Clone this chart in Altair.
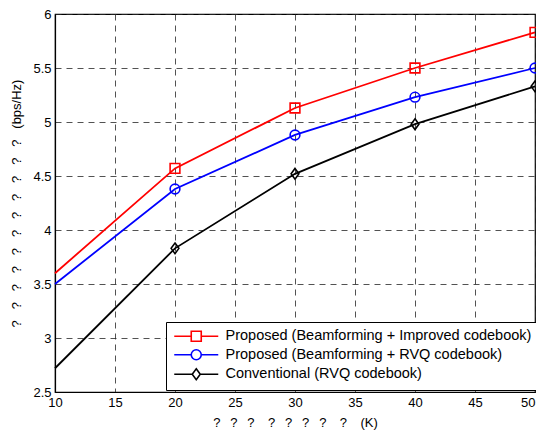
import altair as alt
import pandas as pd

# ---- data ----
K = [10, 20, 30, 40, 50]
improved = [3.60, 4.57, 5.13, 5.50, 5.83]
rvq_bf = [3.50, 4.38, 4.88, 5.23, 5.50]
conventional = [2.72, 3.83, 4.52, 4.98, 5.33]
series = [
    "Proposed (Beamforming + Improved codebook)",
    "Proposed (Beamforming + RVQ codebook)",
    "Conventional (RVQ codebook)",
]
colors = ["#ff0000", "#0000ff", "#000000"]
x_ticks = [10, 15, 20, 25, 30, 35, 40, 45, 50]
y_ticks = [2.5, 3, 3.5, 4, 4.5, 5, 5.5, 6]

NB = "\u00a0"
gap = NB + NB + "\u2009"
x_title = gap.join(["?", "?", "?"]) + gap + NB + gap.join(["?", "?", "?", "?"]) + gap + NB + "?" + gap + NB + "(K)"
y_title = (NB * 3).join(["?"] * 11) + NB * 3 + "(bps/Hz)"

rows = []
for name, vals in zip(series, [improved, rvq_bf, conventional]):
    for k, v in zip(K, vals):
        rows.append({"K": k, "rate": v, "series": name})
df = pd.DataFrame(rows)

marker_paths = [
    "M-1,-1H1V1H-1Z",
    "M-1,0A1,1 0 1,0 1,0A1,1 0 1,0 -1,0Z",
    "M0,-1.1L0.8,0L0,1.1L-0.8,0Z",
]
legend_paths = [
    "M-4.4,0H-1M1,0H4.4M-1,-1H1V1H-1Z",
    "M-4.4,0H-1M1,0H4.4M-1,0A1,1 0 1,0 1,0A1,1 0 1,0 -1,0Z",
    "M-4.4,0H-0.8M0.8,0H4.4M0,-1.1L0.8,0L0,1.1L-0.8,0Z",
]

FONT = "Liberation Sans"

x_enc = alt.X(
    "K:Q",
    scale=alt.Scale(domain=[10, 50], nice=False),
    axis=alt.Axis(values=x_ticks, title=x_title, ticks=False, labelPadding=4,
                  titlePadding=7, labelFlush=False,
                  labelAlign={"condition": {"test": "datum.value >= 50", "value": "right"},
                              "value": "center"}),
)
y_enc = alt.Y(
    "rate:Q",
    scale=alt.Scale(domain=[2.5, 6], nice=False),
    axis=alt.Axis(values=y_ticks, format="~g", title=y_title, ticks=False,
                  labelPadding=4, titlePadding=9, labelFlush=False),
)
cscale = alt.Scale(domain=series, range=colors)

base = alt.Chart(df)

lines = base.mark_line(strokeWidth=1.8).encode(
    x=x_enc, y=y_enc,
    color=alt.Color("series:N", scale=cscale, legend=None),
)

markers = base.mark_point(filled=False, strokeWidth=1.6, size=95, opacity=1).encode(
    x=x_enc, y=y_enc,
    color=alt.Color("series:N", scale=cscale, legend=None),
    shape=alt.Shape("series:N", scale=alt.Scale(domain=series, range=marker_paths), legend=None),
).transform_filter("datum.K > 10")

leg = alt.Legend(
    orient="none", legendX=111, legendY=308, title=None,
    strokeColor="black", fillColor="white", padding=7,
    labelFont=FONT, labelFontSize=14.5, labelColor="black",
    symbolOffset=16, labelOffset=22, rowPadding=1.5,
    symbolStrokeWidth=1.6, labelLimit=0, cornerRadius=0, symbolSize=100,
)

legend_layer = base.mark_point(filled=False, strokeWidth=1.6, size=100, opacity=1).encode(
    x=x_enc, y=y_enc,
    color=alt.Color("series:N", scale=cscale, legend=leg),
    shape=alt.Shape("series:N", scale=alt.Scale(domain=series, range=legend_paths), legend=leg),
).transform_filter("datum.K < 0")

chart = (
    alt.layer(lines, markers, legend_layer)
    .resolve_scale(color="independent", shape="independent")
    .properties(
        width=480, height=378,
        autosize=alt.AutoSizeParams(type="none"),
        padding={"left": 47, "top": 6, "right": 1, "bottom": 40},
    )
    .configure_view(stroke="black", strokeWidth=1.2)
    .configure_axis(
        labelFont=FONT, labelFontSize=13, labelColor="black",
        titleFont=FONT, titleFontSize=13, titleFontWeight="normal", titleColor="black",
        domainColor="black", domainWidth=1.2,
        gridColor="#262626", gridDash=[6, 5], gridWidth=0.8, gridOpacity=1,
    )
)

chart.save("out.html", embed_options={"renderer": "svg", "actions": False})
